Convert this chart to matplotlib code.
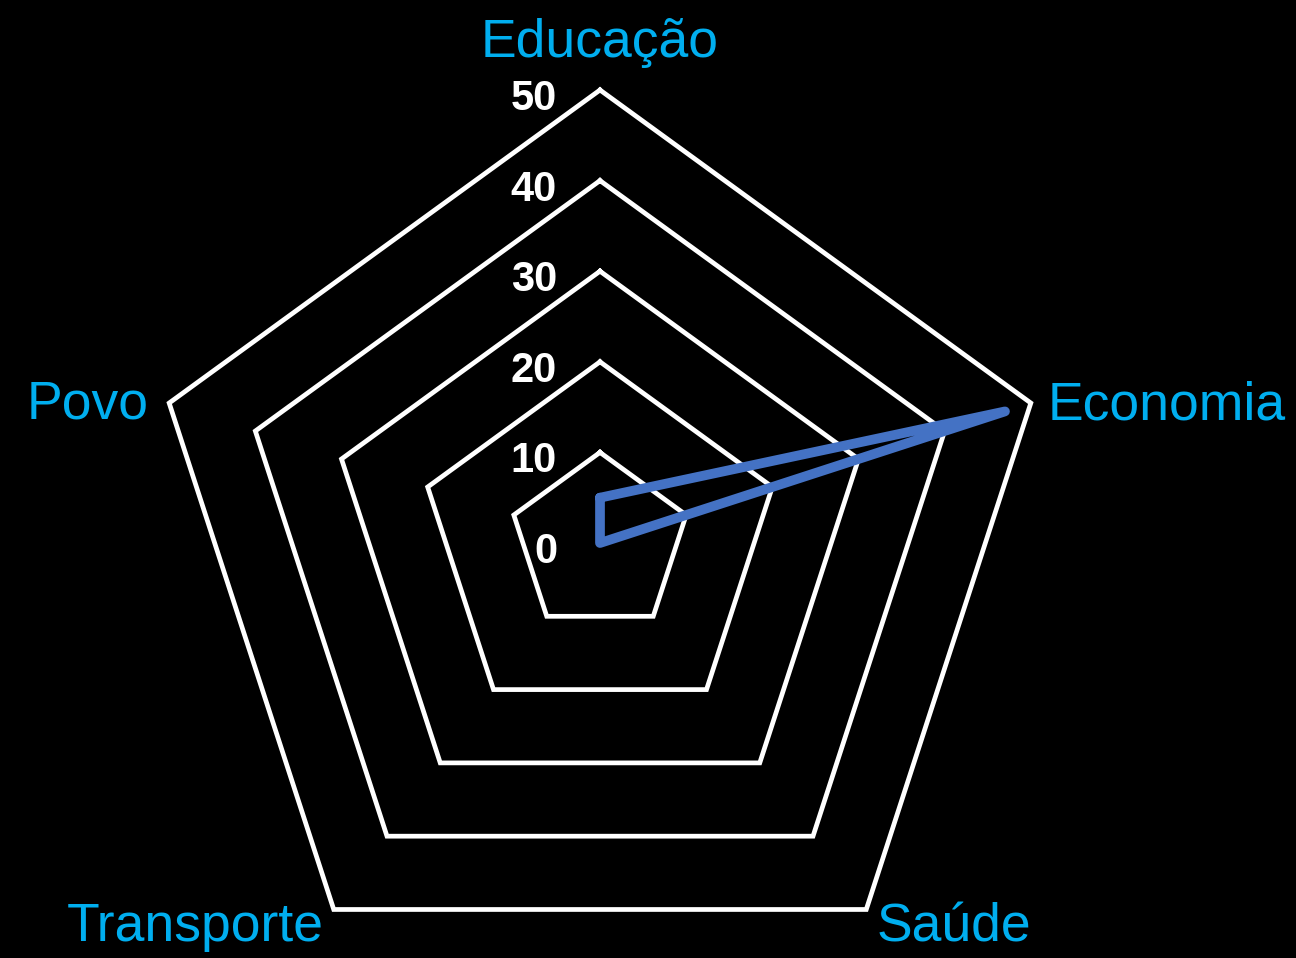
import numpy as np
import matplotlib
matplotlib.use("Agg")
import matplotlib.pyplot as plt

categories = ["Educação", "Economia", "Saúde", "Transporte", "Povo"]
values = [5, 47, 0, 0, 0]
levels = [10, 20, 30, 40, 50]
tick_labels = ["0", "10", "20", "30", "40", "50"]
tick_values = [0, 10, 20, 30, 40, 50]

label_blue = "#00AEEF"
line_blue = "#4472C4"

plt.rcParams['font.family'] = ['Liberation Sans', 'DejaVu Sans']

fig = plt.figure(figsize=(12.96, 9.58), dpi=100, facecolor="black")
W, H = 1296, 958
cx, cy, R = 600, 543, 453
ax = fig.add_axes([(cx - R) / W, (H - cy - R) / H, 2 * R / W, 2 * R / H],
                  projection="polar", facecolor="black")
ax.set_theta_offset(np.pi / 2)
ax.set_theta_direction(-1)
ax.set_ylim(0, 50)
ax.grid(False)
ax.spines['polar'].set_visible(False)
ax.set_xticks([])
ax.set_yticks([])

n = len(categories)
angles = np.arange(n) * 2 * np.pi / n
closed = np.append(angles, angles[0])

# pentagon grid
for lv in levels:
    ax.plot(closed, [lv] * (n + 1), color="white", lw=3.4,
            solid_joinstyle="miter", clip_on=False, zorder=1)

# data
vals = values + values[:1]
ax.plot(closed, vals, color=line_blue, lw=7, solid_joinstyle="round",
        solid_capstyle="round", clip_on=False, zorder=3)

# radial labels
for t, lab in zip(tick_values, tick_labels):
    ax.annotate(lab, xy=(0, t), xytext=(-43, -9), textcoords="offset pixels",
                ha="right", va="center", color="white", fontsize=30,
                fontweight="bold", fontstretch="condensed",
                annotation_clip=False)

# category labels
offsets = [(0, 33, "center"), (17, -16, "left"), (10, -32, "left"),
           (-10, -32, "right"), (-21, -15, "right")]
for ang, cat, (dx, dy, ha) in zip(angles, categories, offsets):
    ax.annotate(cat, xy=(ang, 50), xytext=(dx, dy), textcoords="offset pixels",
                ha=ha, va="baseline", color=label_blue, fontsize=38.5,
                annotation_clip=False)

fig.savefig("out.png", dpi=100, facecolor="black")
